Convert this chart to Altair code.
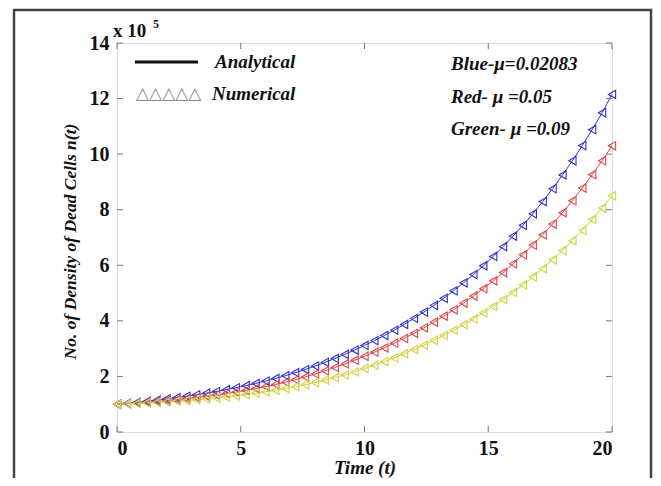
import altair as alt
import pandas as pd

# ---- data (values in units of 10^5) ----
t = [0, 0.4, 0.8, 1.2, 1.6, 2.0, 2.4, 2.8, 3.2, 3.6, 4.0, 4.4, 4.8, 5.2, 5.6, 6.0, 6.4,
     6.8, 7.2, 7.6, 8.0, 8.4, 8.8, 9.2, 9.6, 10.0, 10.4, 10.8, 11.2, 11.6, 12.0, 12.4,
     12.8, 13.2, 13.6, 14.0, 14.4, 14.8, 15.2, 15.6, 16.0, 16.4, 16.8, 17.2, 17.6,
     18.0, 18.4, 18.8, 19.2, 19.6, 20.0]
blue = [1.000, 1.033, 1.068, 1.106, 1.147, 1.190, 1.236, 1.286, 1.339, 1.396, 1.456,
        1.522, 1.591, 1.666, 1.747, 1.833, 1.926, 2.025, 2.133, 2.248, 2.373, 2.506,
        2.646, 2.793, 2.950, 3.115, 3.289, 3.473, 3.667, 3.872, 4.090, 4.316, 4.558,
        4.812, 5.081, 5.369, 5.666, 5.983, 6.317, 6.671, 7.048, 7.438, 7.854, 8.293,
        8.757, 9.253, 9.762, 10.31, 10.88, 11.49, 12.15]
red = [1.000, 1.021, 1.045, 1.071, 1.099, 1.130, 1.164, 1.200, 1.240, 1.284, 1.331,
       1.382, 1.437, 1.497, 1.562, 1.633, 1.709, 1.792, 1.883, 1.981, 2.088, 2.202,
       2.322, 2.449, 2.583, 2.724, 2.873, 3.029, 3.195, 3.369, 3.553, 3.749, 3.954,
       4.170, 4.397, 4.638, 4.891, 5.158, 5.440, 5.737, 6.051, 6.381, 6.730, 7.097,
       7.485, 7.894, 8.325, 8.780, 9.259, 9.765, 10.30]
green = [1.000, 1.013, 1.028, 1.045, 1.063, 1.084, 1.108, 1.133, 1.162, 1.192, 1.226,
         1.263, 1.303, 1.347, 1.395, 1.446, 1.502, 1.563, 1.629, 1.701, 1.779, 1.864,
         1.955, 2.055, 2.164, 2.282, 2.405, 2.535, 2.672, 2.816, 2.968, 3.128, 3.297,
         3.475, 3.663, 3.861, 4.069, 4.289, 4.520, 4.765, 5.022, 5.293, 5.579, 5.880,
         6.198, 6.533, 6.886, 7.257, 7.649, 8.062, 8.497]
series_names = ["Blue", "Red", "Green"]
series_colors = ["#2f2fd2", "#dd4548", "#d2d23c"]
x_ticks = [0, 5, 10, 15, 20]
y_ticks = [0, 2, 4, 6, 8, 10, 12, 14]

rows = []
for name, vals in zip(series_names, [blue, red, green]):
    for ti, v in zip(t, vals):
        rows.append({"t": ti, "n": v, "series": name})
df = pd.DataFrame(rows)

W, H = 495, 389
FONT = "Liberation Serif"
TXT = 19

xs = alt.Scale(domain=[0, 20], nice=False)
ys = alt.Scale(domain=[0, 14], nice=False)
color = alt.Color("series:N", scale=alt.Scale(domain=series_names, range=series_colors), legend=None)

base = alt.Chart(df)

lines = base.mark_line(strokeWidth=1, clip=True).encode(
    x=alt.X("t:Q", scale=xs, axis=alt.Axis(
        values=x_ticks, title="Time (t)", domain=False, ticks=False, grid=False,
        labelFont=FONT, labelFontSize=20, labelFontWeight="bold", labelColor="#111",
        labelPadding=6, titleFont=FONT, titleFontSize=TXT, titleFontWeight="bold",
        titleFontStyle="italic", titleColor="#111", titleY=35, titleBaseline="middle")),
    y=alt.Y("n:Q", scale=ys, axis=alt.Axis(
        values=y_ticks, title="No. of Density of Dead Cells n(t)", domain=False, ticks=False,
        grid=False, labelFont=FONT, labelFontSize=20, labelFontWeight="bold",
        labelColor="#111", labelPadding=8, titleFont=FONT, titleFontSize=17.5,
        titleFontWeight="bold", titleFontStyle="italic", titleColor="#111",
        titleX=-47, titleY=198, titleBaseline="middle")),
    color=color,
    detail="series:N",
)

points = base.mark_point(shape="triangle-left", size=70, filled=False, strokeWidth=1.1, opacity=1).encode(
    x=alt.X("t:Q", scale=xs), y=alt.Y("n:Q", scale=ys), color=color)

xt = pd.DataFrame({"v": x_ticks})
yt = pd.DataFrame({"v": y_ticks})
tick_col = "#777"
xb = alt.Chart(xt).mark_rule(color=tick_col, strokeWidth=1).encode(
    x=alt.X("v:Q", scale=xs), y=alt.value(H), y2=alt.value(H - 6))
xtop = alt.Chart(xt).mark_rule(color=tick_col, strokeWidth=1).encode(
    x=alt.X("v:Q", scale=xs), y=alt.value(0), y2=alt.value(6))
yl = alt.Chart(yt).mark_rule(color=tick_col, strokeWidth=1).encode(
    y=alt.Y("v:Q", scale=ys), x=alt.value(0), x2=alt.value(6))
yr = alt.Chart(yt).mark_rule(color=tick_col, strokeWidth=1).encode(
    y=alt.Y("v:Q", scale=ys), x=alt.value(W), x2=alt.value(W - 6))

one = pd.DataFrame({"a": [0]})


def txt(s, x, y, size=TXT, style="italic", weight="bold", color="#111", font=FONT, align="left"):
    return alt.Chart(one).mark_text(
        text=s, font=font, fontSize=size, fontStyle=style, fontWeight=weight,
        color=color, align=align, baseline="middle").encode(x=alt.value(x), y=alt.value(y))


frame = alt.Chart(one).mark_rect(fill=None, stroke="#444", strokeWidth=2.5, clip=False).encode(
    x=alt.value(-103), x2=alt.value(534), y=alt.value(-33), y2=alt.value(480))

leg_line = alt.Chart(one).mark_rule(color="#111", strokeWidth=3).encode(
    x=alt.value(18), x2=alt.value(81), y=alt.value(19))

decor = [
    txt("Analytical", 98, 19),
    txt("△△△△△", 19, 51, size=17, style="normal", weight="normal", color="#888", font="DejaVu Sans"),
    txt("Numerical", 95, 51),
    txt("Blue-μ=0.02083", 334, 21),
    txt("Red- μ =0.05", 334, 54),
    txt("Green- μ =0.09", 334, 86),
    txt("x 10", -4, -12, size=19, style="normal"),
    txt("5", 36, -19, size=12, style="normal"),
]

chart = alt.layer(frame, lines, points, xb, xtop, yl, yr, leg_line, *decor).properties(
    width=W, height=H,
    autosize=alt.AutoSizeParams(type="none"),
    padding={"left": 109, "top": 35, "right": 41, "bottom": 46},
).configure_view(stroke="#888", strokeWidth=1.5).configure(background="white")

chart.save("out.html", embed_options={"renderer": "svg", "actions": False})
